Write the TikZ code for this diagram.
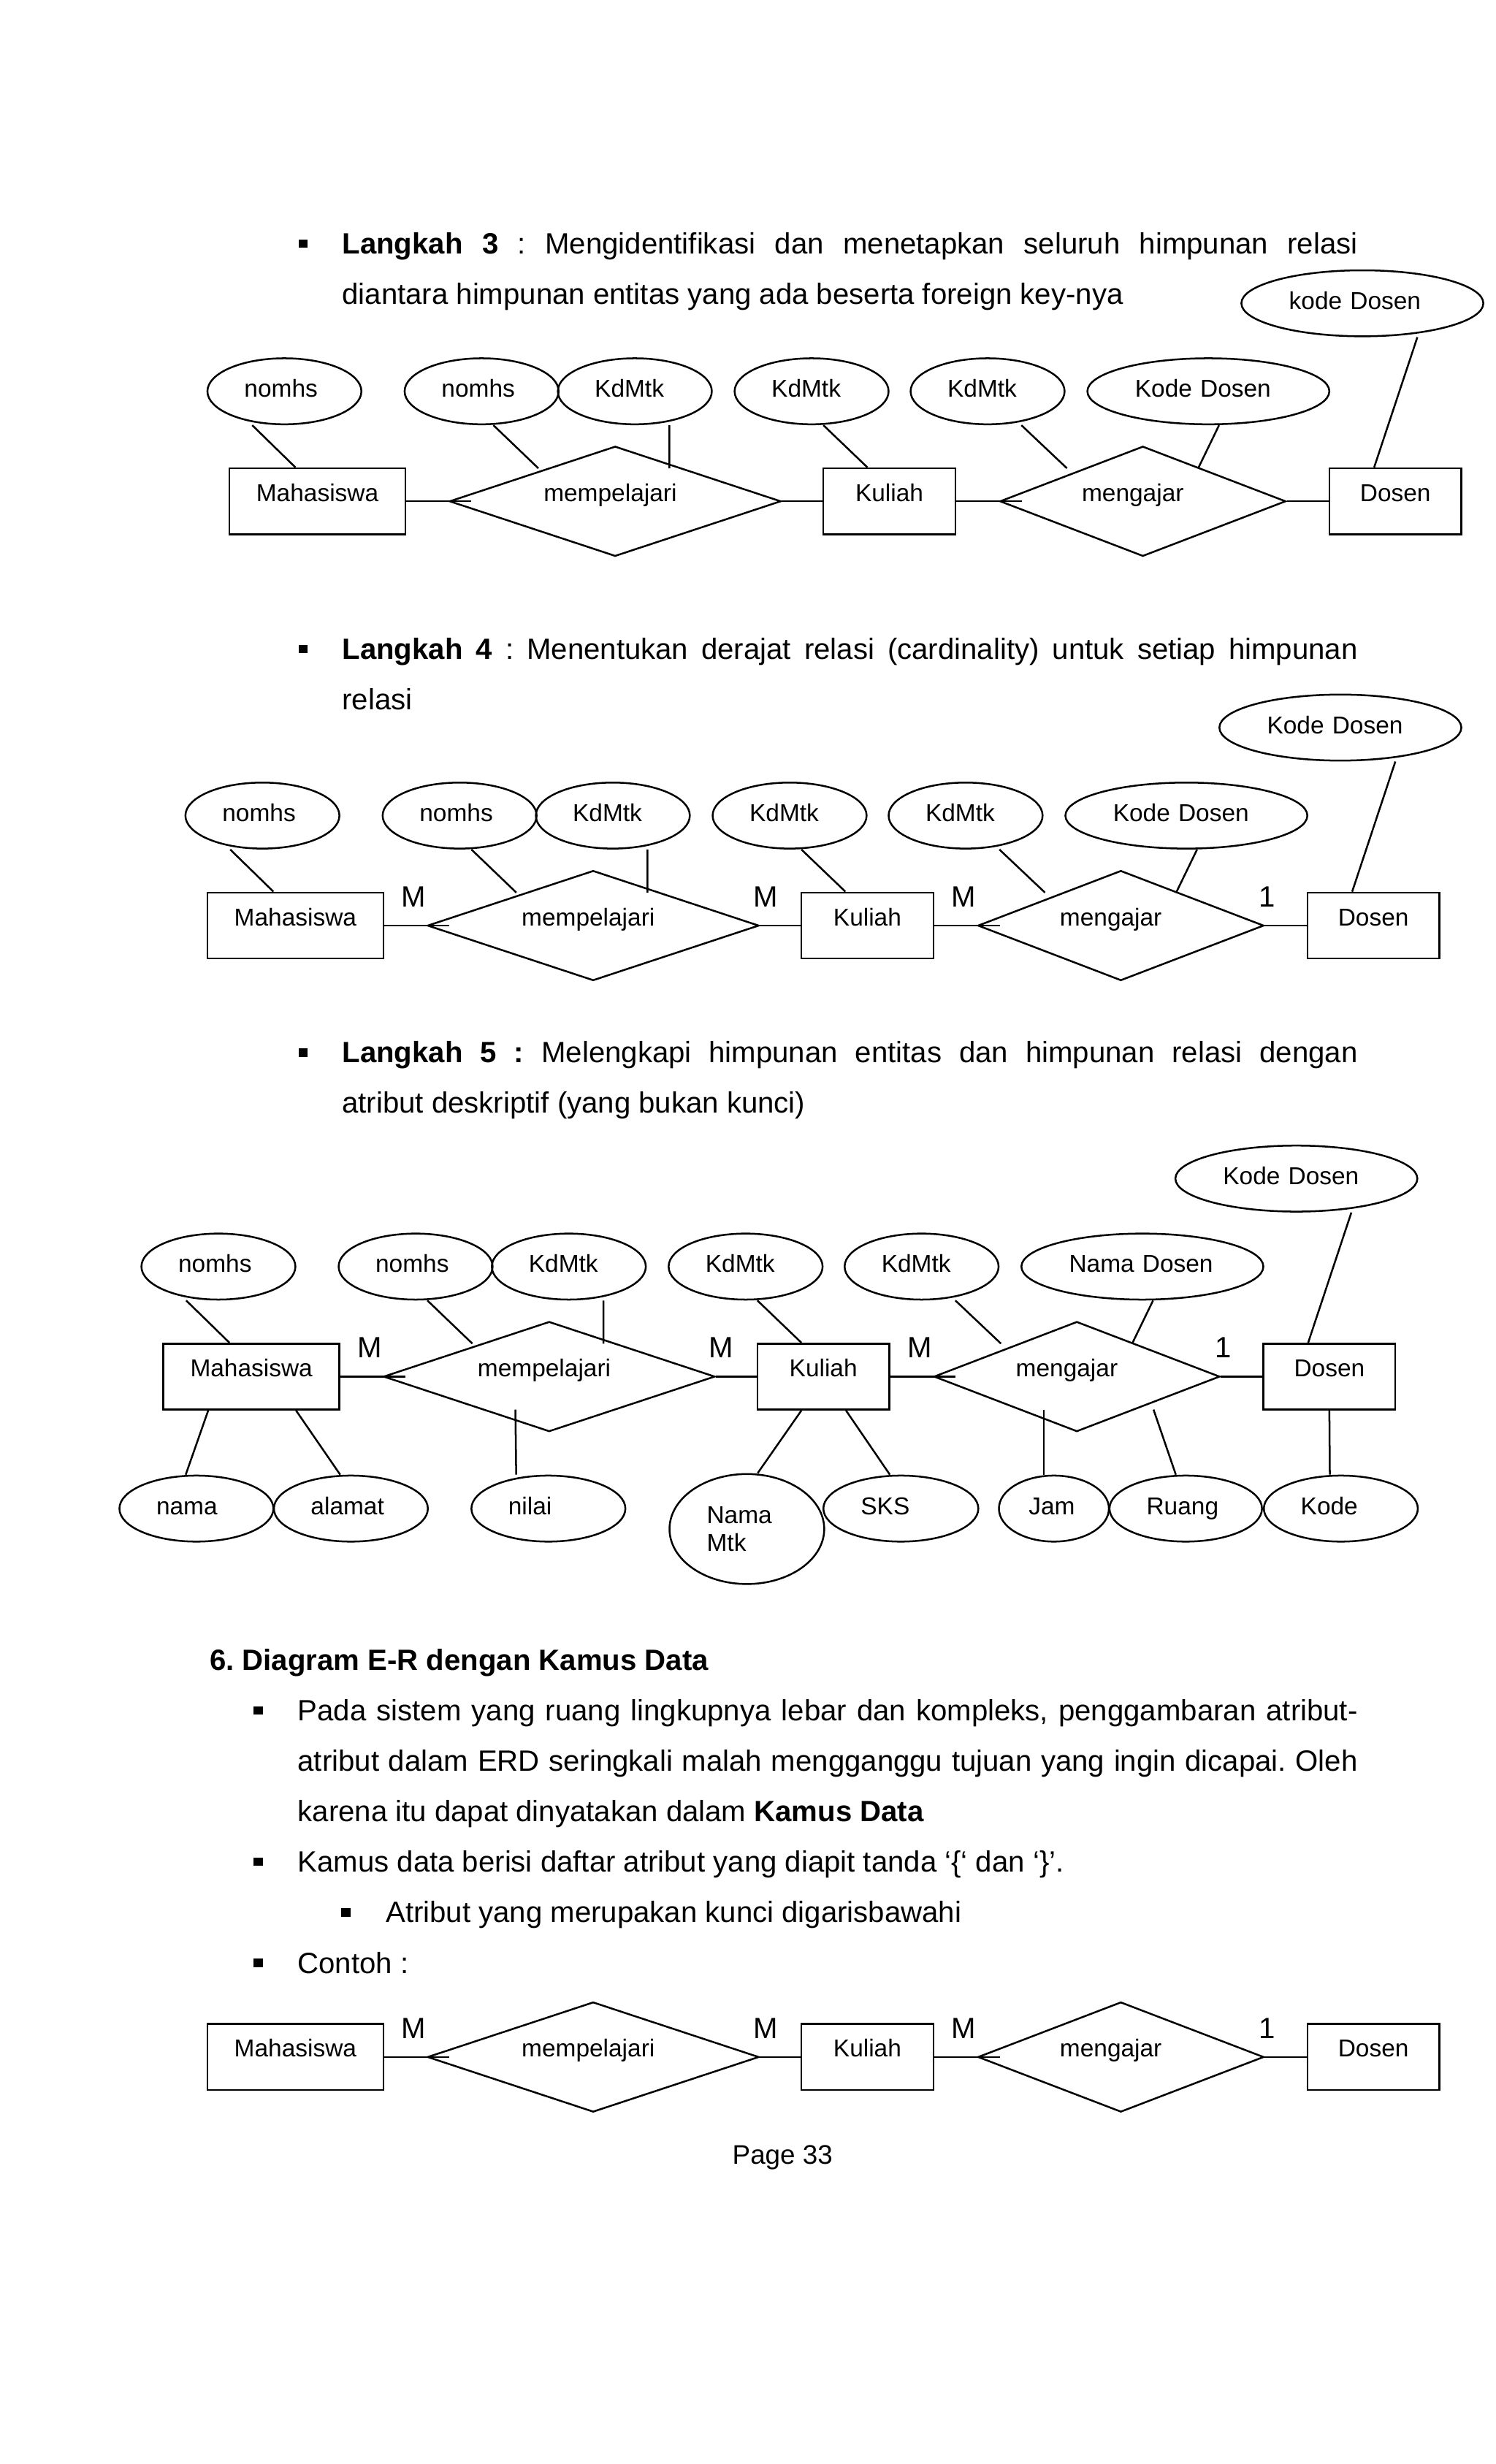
\documentclass[tikz,border=0pt]{standalone}
\usepackage{fontspec}
\setmainfont{Liberation Sans}[Ligatures=CommonOff]
\usetikzlibrary{shapes.geometric}
\frenchspacing
\newcommand\erdfont{\fontsize{10pt}{11.6pt}\selectfont}
\newcommand\bodyfont{\fontsize{12pt}{14pt}\selectfont\frenchspacing}
\newcommand\pagefont{\fontsize{11pt}{13pt}\selectfont}
\tikzset{
  entnode/.style={draw, rectangle, minimum width=#1, minimum height=27pt, inner sep=0pt, text height=5pt, text depth=5pt, font=\erdfont},
  relnode/.style={draw, diamond, minimum width=#1, minimum height=45pt, inner sep=0pt},
  reltext/.style={anchor=base west, inner sep=0pt, font=\erdfont},
  attrnode/.style 2 args={draw, ellipse, minimum width=#1, minimum height=27pt, inner sep=0pt, text width=#2, align=left, text height=4.8pt, text depth=0pt, font=\erdfont},
  cardlbl/.style={anchor=base, inner sep=0pt, font=\bodyfont},
  bodytxt/.style={anchor=base west, inner sep=0pt, font=\bodyfont},
  bulletbox/.style={fill, rectangle, minimum width=3.7pt, minimum height=3.5pt, inner sep=0pt},
}
% entities, relationships and their connectors (base coordinates = Langkah 5 diagram)
\newcommand\erdcore{%
  \node[entnode=72pt] (mah) at (160,876) {Mahasiswa};
  \node[entnode=54pt] (kul) at (524,876) {Kuliah};
  \node[entnode=54pt] (dos) at (846,876) {Dosen};
  \node[relnode=135.65pt] (mmp) at (349.5,876) {};
  \node[relnode=117pt] (mng) at (685.3,876) {};
  \node[reltext] (mmpt) at (303.4,876) {mempelajari};
  \node[reltext] (mngt) at (645.9,876) {mengajar};
  \draw (mah.east) -- ([shift={(14.5,0)}]mmp.west);
  \draw (mmp.east) -- (kul.west);
  \draw (kul.east) -- ([shift={(14.5,0)}]mng.west);
  \draw (mng.east) -- (dos.west);
}
\newcommand\erdcard{%
  \node[cardlbl] (c1) at (235.2,864) {M};
  \node[cardlbl] (c2) at (459.1,864) {M};
  \node[cardlbl] (c3) at (585.2,864) {M};
  \node[cardlbl] (c4) at (778.6,864) {1};
}
\newcommand\erdtop[2]{%
  \node[attrnode={63pt}{32.8pt}] (a1) at (139,806) {nomhs};
  \node[attrnode={63pt}{32.8pt}] (a2) at (264.5,806) {nomhs};
  \node[attrnode={63pt}{32.8pt}] (a3) at (362,806) {KdMtk};
  \node[attrnode={63pt}{32.8pt}] (a4) at (474.5,806) {KdMtk};
  \node[attrnode={63pt}{32.8pt}] (a5) at (586.5,806) {KdMtk};
  \node[attrnode={99pt}{60pt}] (a6) at (727,806) {#2};
  \node[attrnode={99pt}{60pt}] (a7) at (825,750) {#1};
  \draw ([shift={(-20.5,0)}]a1.south) -- ([shift={(-14,0)}]mah.north);
  \draw ([shift={(7.5,0)}]a2.south) -- ([shift={(-48.9,-21)}]mmp.center);
  \draw ([shift={(22,0)}]a3.south) -- ([shift={(34.5,-21)}]mmp.center);
  \draw ([shift={(7.5,0)}]a4.south) -- ([shift={(-14,0)}]kul.north);
  \draw ([shift={(21.5,0)}]a5.south) -- ([shift={(-48.3,-21)}]mng.center);
  \draw ([shift={(6.8,0)}]a6.south) -- ([shift={(35.4,-21.4)}]mng.center);
  \draw ([shift={(35,0)}]a7.south) -- ([shift={(-13.5,0)}]dos.north);
}
\newcommand\erdbottom{%
  \node[attrnode={63pt}{32.8pt}] (nama) at (125,960) {nama};
  \node[attrnode={63pt}{32.8pt}] (alamat) at (223.3,960) {alamat};
  \node[attrnode={63pt}{32.8pt}] (nilai) at (349,960) {nilai};
  \node[attrnode={63.3pt}{32.8pt}, minimum height=45pt, text height=, text depth=] (nmtk) at (475.3,973) {Nama\\Mtk};
  \node[attrnode={63.4pt}{32.8pt}] (sks) at (573.3,960) {SKS};
  \node[attrnode={45pt}{20.6pt}] (jam) at (670.7,960) {Jam};
  \node[attrnode={62.4pt}{32.1pt}] (ruang) at (754.6,960) {Ruang};
  \node[attrnode={63pt}{32.8pt}] (kode) at (853.3,960) {Kode};
  \draw ([shift={(-27.5,0)}]mah.south) -- ([shift={(-6.8,0)}]nama.north);
  \draw ([shift={(28.4,0)}]mah.south) -- ([shift={(-6.8,0)}]alamat.north);
  \draw ([shift={(-21.5,21)}]mmp.center) -- ([shift={(-20.5,0)}]nilai.north);
  \draw ([shift={(-14,0)}]kul.south) -- ([shift={(6.9,0)}]nmtk.north);
  \draw ([shift={(14.4,0)}]kul.south) -- ([shift={(-7,0)}]sks.north);
  \draw ([shift={(-21,21)}]mng.center) -- ([shift={(-6.4,0)}]jam.north);
  \draw ([shift={(48.8,21)}]mng.center) -- ([shift={(-6.3,0)}]ruang.north);
  \draw (dos.south) -- ([shift={(-7,0)}]kode.north);
}
\begin{document}
\begin{tikzpicture}[x=0.6429pt, y=-0.6429pt, line width=0.75pt]
\fill[white] (0,0) rectangle (952,1568);
\useasboundingbox (0,0) rectangle (952,1568);

% ---------- Langkah 3 ----------
\node[bulletbox] (b3) at (193,155) {};
\node[bodytxt] (t3a) at (217.2,161.5) {\makebox[415.5pt][s]{\textbf{Langkah 3} : Mengidentifikasi dan menetapkan seluruh himpunan relasi}};
\node[bodytxt] (t3b) at (217.2,193.5) {diantara himpunan entitas yang ada beserta foreign key-nya};

% ---------- Langkah 4 ----------
\node[bulletbox] (b4) at (193,413) {};
\node[bodytxt] (t4a) at (217.2,419.5) {\makebox[415.5pt][s]{\textbf{Langkah 4} : Menentukan derajat relasi (cardinality) untuk setiap himpunan}};
\node[bodytxt] (t4b) at (217.2,451.5) {relasi};

% ---------- Langkah 5 ----------
\node[bulletbox] (b5) at (193,670) {};
\node[bodytxt] (t5a) at (217.2,676.3) {\makebox[415.5pt][s]{\textbf{Langkah 5 :} Melengkapi himpunan entitas dan himpunan relasi dengan}};
\node[bodytxt] (t5b) at (217.2,708.3) {atribut deskriptif (yang bukan kunci)};

% ---------- diagrams ----------
\begin{scope}[shift={(42,-557)}, name prefix=s1-]
  \erdcore
  \erdtop{kode Dosen}{Kode Dosen}
\end{scope}
\begin{scope}[shift={(28,-287)}, name prefix=s2-]
  \erdcore
  \erdtop{Kode Dosen}{Kode Dosen}
  \erdcard
\end{scope}
\begin{scope}[name prefix=s3-]
  \erdcore
  \erdtop{Kode Dosen}{Nama Dosen}
  \erdcard
  \erdbottom
\end{scope}

% ---------- Section 6 ----------
\node[bodytxt] (h6) at (132.9,1063) {\textbf{6. Diagram E-R dengan Kamus Data}};
\node[bulletbox] (b6a) at (164.4,1088.5) {};
\node[bodytxt] (p1) at (188.9,1095.2) {\makebox[433.7pt][s]{Pada sistem yang ruang lingkupnya lebar dan kompleks, penggambaran atribut-}};
\node[bodytxt] (p2) at (188.9,1127.2) {\makebox[433.7pt][s]{atribut dalam ERD seringkali malah mengganggu tujuan yang ingin dicapai. Oleh}};
\node[bodytxt] (p3) at (188.9,1159.2) {karena itu dapat dinyatakan dalam \textbf{Kamus Data}};
\node[bulletbox] (b6b) at (164.4,1184.7) {};
\node[bodytxt] (k1) at (188.9,1191.4) {Kamus data berisi daftar atribut yang diapit tanda ‘\{‘ dan ‘\}’.};
\node[bulletbox] (b6c) at (220.1,1216.9) {};
\node[bodytxt] (k2) at (245,1223.5) {Atribut yang merupakan kunci digarisbawahi};
\node[bulletbox] (b6d) at (164.4,1249) {};
\node[bodytxt] (k3) at (188.9,1255.7) {Contoh :};

\begin{scope}[shift={(28,433)}, name prefix=s4-]
  \erdcore
  \erdcard
\end{scope}

\node[anchor=base, inner sep=0pt, font=\pagefont] (pg) at (498,1377) {Page 33};
\end{tikzpicture}
\end{document}
